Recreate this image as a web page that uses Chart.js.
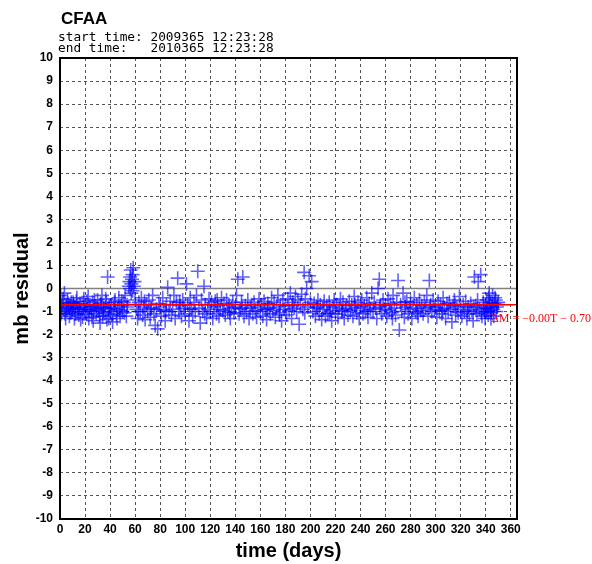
<!DOCTYPE html>
<html>
<head>
<meta charset="utf-8">
<script src="https://cdn.jsdelivr.net/npm/chart.js@4.4.0/dist/chart.umd.min.js"></script>
<style>
html,body{margin:0;padding:0;background:#fff;}
#c{display:block;}
</style>
</head>
<body>
<canvas id="c" width="592" height="564"></canvas>
<script>
const stationName = "CFAA";
const startTime = "start time: 2009365 12:23:28";
const endTime   = "end time:   2010365 12:23:28";
const xTitle = "time (days)";
const yTitle = "mb residual";
const fitSlope = 0.00;
const fitIntercept = -0.70;
const fitLabel = "\u0394M = \u22120.00T \u2212 0.70";
const xRange = [0, 365];
const yRange = [-10, 10];

const days = [
 0.5,1,1.5,2,3,3.5,4,5,5.5,6,7,7.5,8,9,9.5,
 10,11,11.5,12,13,14,14.5,15,16,17,18,18.5,19,
 20,21,22,22.5,23,24,25,26,26.5,27,28,29,
 30,31,32,33,33.5,34,35,36,37,38,38.5,39,
 40,41,42,43,44,45,46,47,48,49,
 50,51,52,53,54,55,55.5,56,56.5,57,57.5,58,58.5,59,59.5,60,56,57,58,
 61,62,63,64,65,66,67,68,69,
 70,71,72,73,74,75,76,77,78,79,
 80,81,82,83,84,85,86,87,88,89,
 90,91,92,93,94,95,96,97,98,99,
 100,101,102,103,104,105,106,107,108,109,110,
 111,112,113,114,115,116,117,118,119,
 120,121,122,123,124,125,126,127,128,129,
 130,131,132,133,134,135,136,137,138,139,
 140,141,142,143,144,145,146,147,148,149,
 150,151,152,153,154,155,156,157,158,159,
 160,161,162,163,164,165,166,167,168,169,
 170,171,172,173,174,175,176,177,178,179,
 180,181,182,183,184,185,186,187,188,189,
 190,191,192,193,194,195,196,197,198,199,200,201,
 202,203,204,205,206,207,208,209,
 210,211,212,213,214,215,216,217,218,219,
 220,221,222,223,224,225,226,227,228,229,
 230,231,232,233,234,235,236,237,238,239,
 240,241,242,243,244,245,246,247,248,249,
 250,251,252,253,254,255,256,257,258,259,
 260,261,262,263,264,265,266,267,268,269,
 270,271,272,273,274,275,276,277,278,279,
 280,281,282,283,284,285,286,287,288,289,
 290,291,292,293,294,295,296,297,298,299,
 300,301,302,303,304,305,306,307,308,309,
 310,311,312,313,314,315,316,317,318,319,
 320,321,322,323,324,325,326,327,328,329,
 330,331,332,333,334,335,336,337,338,339,
 340,340.5,341,341.5,342,342.5,343,343.5,344,344.5,345,345.5,346,347,348,349,350,
 0.8,2.5,4.5,6.5,8.5,10.5,12.5,13.5,15.5,16.5,19.5,21.5,23.5,25.5,27.5,29.5,
 31.5,32.5,34.5,36.5,37.5,39.5,41.5,43.5,45.5,47.5,49.5,51.5,53.5,
 330.5,333.5,336.5,338.5,339.5,346.5,347.5,348.5,349.5,344.2,342.8,
 62.5,67.5,72.5,84.5,95.5,103.5,115.5,125.5,135.5,145.5,165.5,175.5,185.5,195.5,
 205.5,215.5,225.5,235.5,245.5,255.5,265.5,275.5,285.5,295.5,305.5,315.5,325.5
];
const residuals = [
 -0.3,-0.8,-1.0,-0.6,-0.9,-0.2,-1.1,-0.7,-0.95,-0.5,-0.85,-1.2,-0.75,-0.6,-1.0,
 -0.9,-0.7,-1.3,-0.8,-0.55,-1.0,-0.85,-1.15,-0.65,-0.9,-1.25,-0.8,-0.45,
 -0.7,-1.1,-0.9,-0.35,-1.3,-0.8,-1.0,-0.6,-1.4,-0.9,-0.75,-1.1,
 -0.5,-0.95,-1.5,-0.8,-0.3,-1.2,-0.85,-1.05,-0.6,0.5,-0.9,-1.3,
 -1.0,-0.7,-1.45,-0.85,-0.5,-1.1,-0.9,-0.4,-1.2,-0.75,
 -1.0,-0.6,-0.3,-1.2,-0.8,0.1,0.3,0.5,0.8,0.2,0.4,0.6,0.9,0.1,0.3,-0.5,0.0,-0.2,-0.1,
 -0.9,-1.3,-0.6,-1.0,-0.4,-1.15,-0.8,-1.35,-0.7,
 -1.0,-0.5,-1.25,-0.85,-0.3,-1.1,-1.6,-0.9,-1.75,-0.65,
 -0.8,-1.2,-0.4,-0.95,-1.4,-0.7,0.05,-1.0,-0.55,-1.15,
 -0.9,-0.3,-1.3,-0.6,0.45,-1.0,-0.75,-1.2,-0.5,-0.85,
 -1.1,0.2,-0.7,-1.4,-0.4,-0.9,-1.2,-0.6,-1.0,-0.3,0.75,
 -0.85,-1.5,-0.5,-1.0,0.1,-0.7,-1.25,-0.9,-0.45,
 -1.0,-0.6,-1.3,-0.8,-0.55,-1.1,-0.75,-1.2,-0.9,-0.4,
 -0.95,-0.65,-1.15,-0.5,-1.0,-0.7,-1.3,-0.85,-0.6,-1.05,
 -0.8,-0.3,0.4,-1.1,-0.9,-0.6,0.5,-1.2,-0.75,-1.0,
 -0.5,-1.3,-0.85,-0.7,-1.1,-0.6,-0.95,-1.25,-0.8,-0.45,
 -1.0,-0.7,-1.2,-0.55,-0.9,-1.35,-0.65,-0.85,-1.1,-0.4,
 -0.95,-0.6,-1.25,-0.8,-0.3,-1.05,-0.7,-1.4,-0.5,-0.9,
 -0.75,-1.15,-0.45,-0.95,-0.2,-1.3,-0.6,-0.85,-0.35,-1.0,
 -0.5,-1.55,-0.7,-0.25,-0.9,0.7,-0.45,0.0,-0.8,0.55,-0.6,0.3,
 -1.0,-0.65,-1.2,-0.8,-0.5,-1.1,-0.7,-1.35,
 -0.9,-0.55,-1.2,-0.75,-1.05,-0.6,-0.95,-1.4,-0.8,-0.5,
 -1.1,-0.7,-1.25,-0.85,-0.45,-1.0,-0.6,-1.3,-0.9,-0.75,
 -1.15,-0.55,-0.95,-0.7,-1.2,-0.35,-0.85,-1.05,-0.6,-1.3,
 -0.8,-0.5,-1.1,-0.75,-0.95,-0.4,-1.25,-0.65,-0.9,-0.2,
 -1.0,-0.6,-0.85,-1.3,0.0,0.4,-0.7,-1.1,-0.5,-0.9,
 -0.75,-1.2,-0.45,-0.95,-0.65,-1.05,-0.3,-0.85,-1.15,-0.6,
 0.35,-1.8,-0.7,-1.0,-0.2,-1.25,-0.8,-0.55,-1.1,-0.9,
 -0.6,-1.3,-0.85,-0.4,-1.0,-0.7,-1.2,-0.5,-0.95,-0.75,
 -1.1,-0.6,-0.85,-0.3,-1.2,0.35,-0.7,-1.0,-0.5,-0.9,
 -0.8,-1.25,-0.55,-0.95,-0.7,-1.1,-0.4,-0.85,-1.3,-0.65,
 -1.0,-0.6,-0.9,-1.45,-0.75,-0.5,-1.15,-0.8,-1.05,-0.35,
 -0.9,-1.2,-0.7,-1.0,-0.55,-1.3,-0.8,-1.1,-0.65,-0.95,
 -1.4,0.5,-0.75,-1.1,0.3,-0.9,0.6,-1.2,-0.6,-1.0,
 -0.7,-1.0,-0.5,-0.85,-1.15,-0.4,-0.75,-0.95,-0.6,-1.05,-0.8,-0.3,-0.9,-0.65,-0.5,-0.8,-0.6,
 -1.1,-0.45,-1.3,-0.65,-1.05,-0.6,-1.1,-0.4,-0.9,-1.35,-1.0,-0.55,-0.95,-1.25,-0.5,-0.85,
 -1.2,-0.65,-1.0,-0.45,-1.35,-0.8,-1.15,-0.6,-1.3,-0.95,-0.55,-1.05,-0.7,
 -0.8,-0.5,-1.05,-0.85,-1.3,-1.2,-0.4,-1.0,-0.7,-1.3,-0.2,
 -1.0,-0.55,-0.9,-1.0,-0.6,-0.9,-1.1,-0.5,-1.05,-0.85,-0.9,-1.15,-0.75,-1.05,
 -0.85,-1.1,-0.95,-0.7,-1.0,-0.8,-1.3,-0.6,-1.05,-0.8,-0.95,-0.7,-1.0
];

const points = days.map((d, i) => ({x: d, y: residuals[i]}));
const zeroLine = [{x: xRange[0], y: 0}, {x: xRange[1], y: 0}];
const fitLine = [{x: xRange[0], y: fitIntercept + fitSlope * xRange[0]}, {x: xRange[1], y: fitIntercept + fitSlope * xRange[1]}];

const decor = {
  id: 'decor',
  afterDraw(chart) {
    const {ctx, chartArea: a, scales} = chart;
    ctx.save();
    ctx.strokeStyle = '#000';
    ctx.lineWidth = 2;
    ctx.strokeRect(a.left, a.top, a.right - a.left, a.bottom - a.top);
    ctx.fillStyle = '#000';
    ctx.textBaseline = 'alphabetic';
    ctx.textAlign = 'left';
    ctx.font = 'bold 17px "Liberation Sans", Arial, sans-serif';
    ctx.fillText(stationName, 61, 24);
    ctx.font = '12.8px "DejaVu Sans Mono", "Liberation Mono", monospace';
    ctx.fillText(startTime, 58, 40.5);
    ctx.fillText(endTime, 58, 52);
    ctx.fillStyle = '#ff0000';
    ctx.font = '12px "Liberation Serif", "DejaVu Serif", serif';
    const yp = scales.y.getPixelForValue(fitIntercept);
    ctx.fillText(fitLabel, 491, yp + 17);
    ctx.restore();
  }
};

new Chart(document.getElementById('c'), {
  type: 'scatter',
  data: {
    datasets: [
      {
        type: 'line', data: zeroLine, borderColor: '#808080', borderWidth: 1.5,
        pointRadius: 0, fill: false, order: 3
      },
      {
        data: points, pointStyle: 'cross', pointRadius: 7, pointHoverRadius: 7,
        borderColor: 'rgba(0,0,255,0.62)', backgroundColor: 'rgba(0,0,255,0.62)',
        pointBorderWidth: 1.6, borderWidth: 1.6, order: 2
      },
      {
        type: 'line', data: fitLine, borderColor: '#ff0000', borderWidth: 1.5,
        pointRadius: 0, fill: false, order: 1
      }
    ]
  },
  options: {
    responsive: false,
    animation: false,
    events: [],
    layout: {padding: {top: 58, right: 75, left: 0, bottom: 0}},
    plugins: {legend: {display: false}, tooltip: {enabled: false}},
    scales: {
      x: {
        type: 'linear', min: xRange[0], max: xRange[1],
        afterFit(s) { s.height = 45; },
        afterBuildTicks(s) { s.ticks = s.ticks.filter(t => t.value % 20 === 0); },
        ticks: {
          stepSize: 20, includeBounds: false, padding: 3, maxRotation: 0, autoSkip: false,
          color: '#000', font: {family: '"Liberation Sans", Arial, sans-serif', size: 12, weight: 'bold'}
        },
        grid: {color: '#555', lineWidth: 1, drawTicks: false},
        border: {display: false, dash: [3, 3]},
        title: {
          display: true, text: xTitle, color: '#000', padding: {top: 0, bottom: 1},
          font: {family: '"Liberation Sans", Arial, sans-serif', size: 20, weight: 'bold'}
        }
      },
      y: {
        type: 'linear', min: yRange[0], max: yRange[1],
        afterFit(s) { s.width = 60; },
        ticks: {
          stepSize: 1, padding: 7, autoSkip: false,
          color: '#000', font: {family: '"Liberation Sans", Arial, sans-serif', size: 12, weight: 'bold'}
        },
        grid: {color: '#555', lineWidth: 1, drawTicks: false},
        border: {display: false, dash: [3, 3]},
        title: {
          display: true, text: yTitle, color: '#000', padding: {top: 10, bottom: 0},
          font: {family: '"Liberation Sans", Arial, sans-serif', size: 20, weight: 'bold'}
        }
      }
    }
  },
  plugins: [decor]
});
</script>
</body>
</html>
